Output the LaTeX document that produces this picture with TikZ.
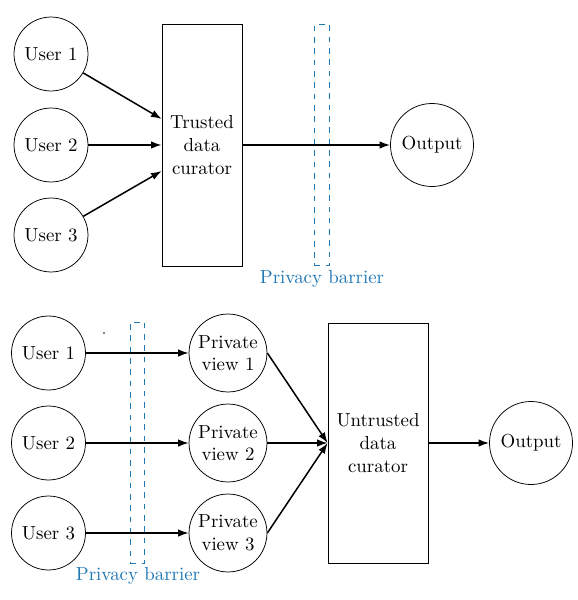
\documentclass[tikz,border=0pt]{standalone}
\usetikzlibrary{arrows.meta}
\definecolor{pblue}{RGB}{31,119,180}
\begin{document}
\begin{tikzpicture}[x=0.53pt,y=-0.53pt,
  user/.style={draw,circle,minimum size=39.2pt,inner sep=0pt},
  pview/.style={draw,circle,minimum size=41.3pt,inner sep=0pt,align=center},
  outnode/.style={draw,circle,minimum size=44pt,inner sep=0pt},
  curator/.style={draw,rectangle,inner sep=0pt,align=center},
  barrier/.style={draw=pblue,dashed,rectangle,inner sep=0pt,minimum width=7.6pt,minimum height=128pt},
  blabel/.style={text=pblue,inner sep=0pt},
  arr/.style={thick,-{Latex[length=5.6pt,width=4pt]}}]
\useasboundingbox (0,0) rectangle (578,600);
% top diagram
\node[user] (tu1) at (51,54) {User 1};
\node[user] (tu2) at (51,145) {User 2};
\node[user] (tu3) at (51,235) {User 3};
\node[curator,minimum width=42.4pt,minimum height=128.3pt] (tc) at (202,145) {Trusted\\data\\curator};
\node[barrier] (tb) at (322,145) {};
\node[blabel] (tbl) at (322,279) {Privacy barrier};
\node[outnode] (to) at (432,145) {Output};
\draw[arr] (tu1) -- ([yshift=13.8pt]tc.west);
\draw[arr] (tu2) -- (tc.west);
\draw[arr] (tu3) -- ([yshift=-13.8pt]tc.west);
\draw[arr] (tc.east) -- (to.west);
% bottom diagram
\node[user] (bu1) at (48.5,353) {User 1};
\node[user] (bu2) at (48.5,443) {User 2};
\node[user] (bu3) at (48.5,533) {User 3};
\node[circle,fill,inner sep=0.35pt] (dot) at (104,333) {};
\node[barrier,minimum height=127.7pt] (bb) at (137.5,442.5) {};
\node[blabel] (bbl) at (138,576) {Privacy barrier};
\node[pview] (pv1) at (228,353) {Private\\view 1};
\node[pview] (pv2) at (228,443) {Private\\view 2};
\node[pview] (pv3) at (228,533) {Private\\view 3};
\node[curator,minimum width=53pt,minimum height=127.2pt] (uc) at (378,443) {Untrusted\\data\\curator};
\node[outnode] (bo) at (531,443) {Output};
\draw[arr] (bu1) -- (pv1);
\draw[arr] (bu2) -- (pv2);
\draw[arr] (bu3) -- (pv3);
\draw[arr] (pv1.east) -- (uc.west);
\draw[arr] (pv2.east) -- (uc.west);
\draw[arr] (pv3.east) -- (uc.west);
\draw[arr] (uc.east) -- (bo.west);
\end{tikzpicture}
\end{document}
